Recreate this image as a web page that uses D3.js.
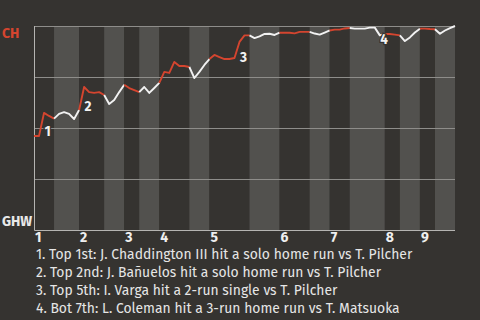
<!DOCTYPE html>
<html>
<head>
<meta charset="utf-8">
<script src="https://cdn.jsdelivr.net/npm/d3@7"></script>
<style>
  html, body { margin: 0; padding: 0; background: #353330; }
  svg { display: block; font-family: "Fira Sans", "Open Sans", sans-serif; }
</style>
</head>
<body>
<div id="graph"></div>
<script>
// plays per half inning (top 1, bot 1, top 2, ...)
var halfInningPlays = [4, 5, 5, 4, 3, 4, 6, 4, 8, 6, 6, 4, 4, 7, 3, 4, 3, 4];
var innings = ["1", "2", "3", "4", "5", "6", "7", "8", "9"];
// CH win probability after each play
var winProb = [
  0.461, 0.461, 0.574, 0.559, 0.546,
  0.569, 0.578, 0.569, 0.544, 0.588,
  0.701, 0.676, 0.672, 0.676, 0.662,
  0.618, 0.637, 0.676, 0.712,
  0.696, 0.686, 0.676,
  0.701, 0.672, 0.696, 0.721,
  0.775, 0.770, 0.824, 0.804, 0.804, 0.799,
  0.745, 0.775, 0.809, 0.838,
  0.858, 0.848, 0.838, 0.838, 0.843, 0.922, 0.954, 0.954,
  0.941, 0.949, 0.961, 0.962, 0.956, 0.967,
  0.967, 0.967, 0.964, 0.971, 0.971, 0.971,
  0.963, 0.958, 0.968, 0.978,
  0.982, 0.982, 0.988, 0.990,
  0.987, 0.987, 0.987, 0.992, 0.992, 0.954, 0.961,
  0.961, 0.958, 0.954,
  0.926, 0.944, 0.968, 0.987,
  0.987, 0.985, 0.984,
  0.962, 0.978, 0.990, 1.000
];
// play index of each labelled event
var eventPlays = [2, 10, 41, 69];
var eventLabels = ["1", "2", "3", "4"];
var eventTexts = [
  "1. Top 1st: J. Chaddington III hit a solo home run vs T. Pilcher",
  "2. Top 2nd: J. Bañuelos hit a solo home run vs T. Pilcher",
  "3. Top 5th: I. Varga hit a 2-run single vs T. Pilcher",
  "4. Bot 7th: L. Coleman hit a 3-run home run vs T. Matsuoka"
];
var awayTeam = "CH", homeTeam = "GHW";

(function () {
  var bg = "#353330", light = "#52514e", red = "#d4452f", white = "#f2f2f2";

  var width = 480, height = 320;
  var plotLeft = 34, plotRight = 455, plotTop = 26, plotBottom = 230;

  var bounds = [0];
  halfInningPlays.forEach(function (n, i) { bounds.push(bounds[i] + n); });

  var x = d3.scaleLinear().domain([0, bounds[bounds.length - 1]]).range([plotLeft, plotRight]);
  var y = d3.scaleLinear().domain([0, 1]).range([plotBottom, plotTop]);

  var svg = d3.select("#graph").append("svg")
    .attr("width", width)
    .attr("height", height);

  svg.append("rect").attr("width", width).attr("height", height).attr("fill", bg);

  // half inning stripes
  svg.append("g").selectAll("rect")
    .data(halfInningPlays)
    .enter().append("rect")
    .attr("x", function (d, i) { return x(bounds[i]); })
    .attr("width", function (d, i) { return x(bounds[i + 1]) - x(bounds[i]); })
    .attr("y", plotTop)
    .attr("height", plotBottom - plotTop)
    .attr("fill", function (d, i) { return i % 2 ? light : bg; });

  // grid
  svg.append("g").selectAll("line")
    .data([0.25, 0.5, 0.75, 1])
    .enter().append("line")
    .attr("x1", plotLeft).attr("x2", plotRight)
    .attr("y1", function (d) { return Math.round(y(d)) + 0.5; })
    .attr("y2", function (d) { return Math.round(y(d)) + 0.5; })
    .attr("stroke", "#8e8d8a")
    .attr("stroke-width", 1);

  svg.append("path")
    .attr("d", "M" + (plotLeft + 0.5) + "," + plotTop + "V" + (plotBottom + 0.5) + "H" + plotRight)
    .attr("fill", "none")
    .attr("stroke", "#b5b4b1")
    .attr("stroke-width", 1);

  // win probability line, one path per half inning
  var line = d3.line()
    .x(function (d) { return x(d); })
    .y(function (d) { return y(winProb[d]); });

  svg.append("g").selectAll("path")
    .data(halfInningPlays)
    .enter().append("path")
    .attr("d", function (d, i) { return line(d3.range(bounds[i], bounds[i + 1] + 1)); })
    .attr("fill", "none")
    .attr("stroke", function (d, i) { return i % 2 ? white : red; })
    .attr("stroke-width", 1.9)
    .attr("stroke-linejoin", "round");

  // event markers
  svg.append("g").selectAll("text")
    .data(eventPlays)
    .enter().append("text")
    .attr("x", function (d) { return (x(d - 1) + x(d)) / 2 + 3; })
    .attr("y", function (d) { return (y(winProb[d - 1]) + y(winProb[d])) / 2 + 12; })
    .attr("fill", white)
    .attr("stroke", bg)
    .attr("stroke-width", 2.5)
    .attr("paint-order", "stroke")
    .attr("font-size", 13.5)
    .attr("font-weight", "bold")
    .text(function (d, i) { return eventLabels[i]; });

  // team labels
  svg.append("text")
    .attr("x", 2).attr("y", 38)
    .attr("fill", red)
    .attr("font-size", 14)
    .attr("font-weight", "bold")
    .text(awayTeam);
  svg.append("text")
    .attr("x", 2).attr("y", 226)
    .attr("fill", "#e8e8e8")
    .attr("font-size", 14)
    .attr("font-weight", "bold")
    .text(homeTeam);

  // inning labels
  svg.append("g").selectAll("text")
    .data(innings)
    .enter().append("text")
    .attr("x", function (d, i) { return x(bounds[i * 2]) + 1; })
    .attr("y", 242)
    .attr("fill", "#efefef")
    .attr("font-size", 14)
    .attr("font-weight", "bold")
    .text(function (d) { return d; });

  // event descriptions
  svg.append("g").selectAll("text")
    .data(eventTexts)
    .enter().append("text")
    .attr("x", 36)
    .attr("y", function (d, i) { return 259 + i * 18; })
    .attr("fill", "#e6e6e6")
    .attr("font-size", 13.9)
    .text(function (d) { return d; });
})();
</script>
</body>
</html>
